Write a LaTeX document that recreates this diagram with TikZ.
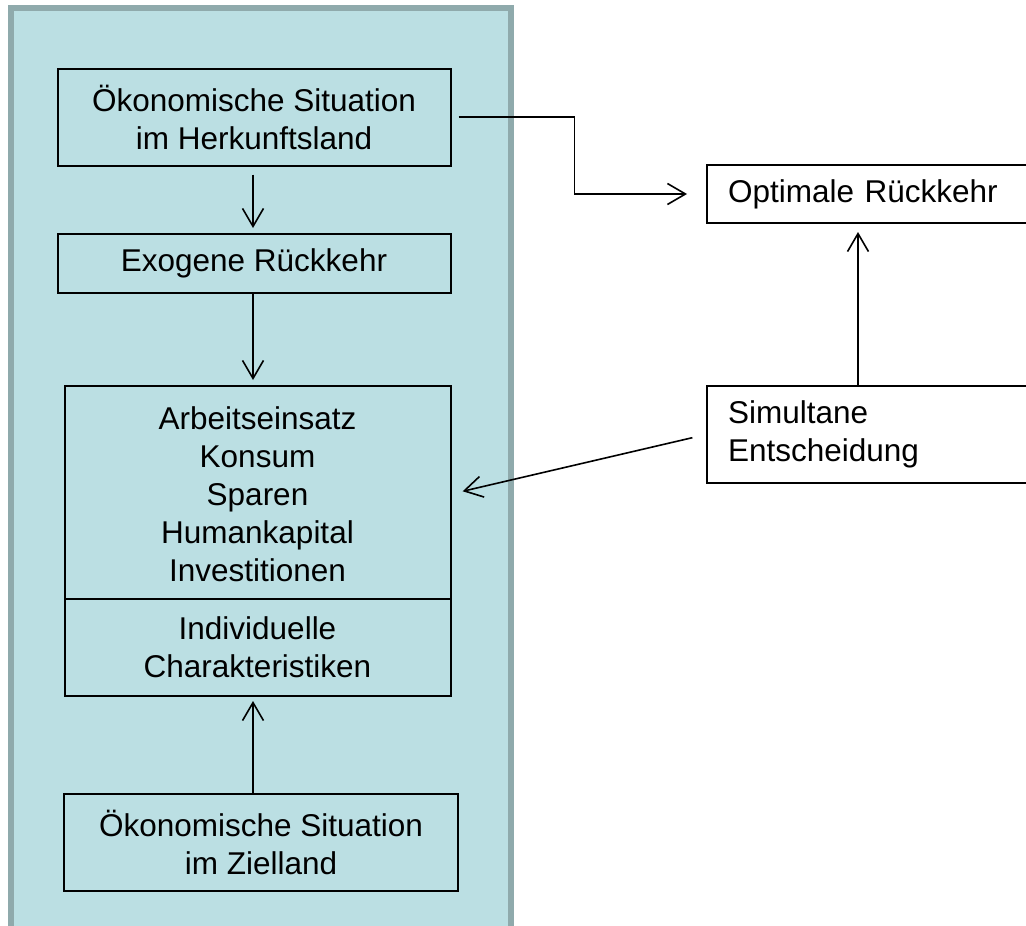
\documentclass[tikz,border=0pt]{standalone}
\usepackage{fontspec}
\setmainfont{Liberation Sans}
\usetikzlibrary{arrows.meta}
\definecolor{panelfill}{HTML}{BBDFE3}
\definecolor{panelline}{HTML}{8FAAAC}
\newcommand\dfont{\fontsize{31.5}{38}\selectfont}
\begin{document}
\begin{tikzpicture}[x=1pt,y=-1pt,
  box/.style={draw=black,line width=2pt,inner sep=0pt,align=center,font=\dfont},
  lbox/.style={draw=black,fill=white,line width=2pt,inner xsep=21pt,inner ysep=0pt,align=left,font=\dfont,anchor=west,text width=330pt},
  txt/.style={inner sep=0pt,align=center,font=\dfont},
  arr/.style={line width=1.6pt,-{Straight Barb[length=18pt,width=21pt,line width=1.6pt]}}]
\useasboundingbox (0,0) rectangle (1026,926);
\clip (0,0) rectangle (1026,926);
% panel
\draw[fill=panelfill,draw=panelline,line width=5.5pt] (11,8) rectangle (511,960);
% left column boxes
\node[box,minimum width=393pt,minimum height=97pt] (herk) at (254,117) {Ökonomische Situation\\im Herkunftsland};
\node[box,minimum width=393pt,minimum height=59pt] (exo) at (254,263.5) {Exogene Rückkehr};
\node[box,minimum width=386pt,minimum height=213pt] (act) at (257.5,492.5) {};
\node[txt] (acttxt) at (257.5,494) {Arbeitseinsatz\\Konsum\\Sparen\\Humankapital\\Investitionen};
\node[box,minimum width=386pt,minimum height=97pt] (ind) at (257.5,647.5) {Individuelle\\Charakteristiken};
\node[box,minimum width=394pt,minimum height=97pt] (ziel) at (261,842.5) {Ökonomische Situation\\im Zielland};
% right boxes
\node[lbox,minimum height=58pt] (opt) at (706,194) {Optimale Rückkehr};
\node[lbox,minimum height=97pt] (sim) at (706,434.5) {Simultane\\Entscheidung};
% connectors
\coordinate (bend) at (574.5,117);
\coordinate (b3r) at (451,494);
\draw[arr,shorten <=7pt,shorten >=19pt] (herk.east) -- (bend) |- (opt.west);
\draw[arr,shorten <=8pt,shorten >=5pt] (herk.south -| 253,0) -- (exo.north -| 253,0);
\draw[arr,shorten >=5pt] (exo.south -| 253,0) -- (act.north -| 253,0);
\draw[arr,shorten >=4pt] (ziel.north -| 253,0) -- (ind.south -| 253,0);
\draw[arr,shorten >=8pt] (sim.north -| 858,0) -- (opt.south -| 858,0);
\draw[arr,shorten <=14pt,shorten >=12pt] (sim.west) -- (b3r);
\end{tikzpicture}
\end{document}
